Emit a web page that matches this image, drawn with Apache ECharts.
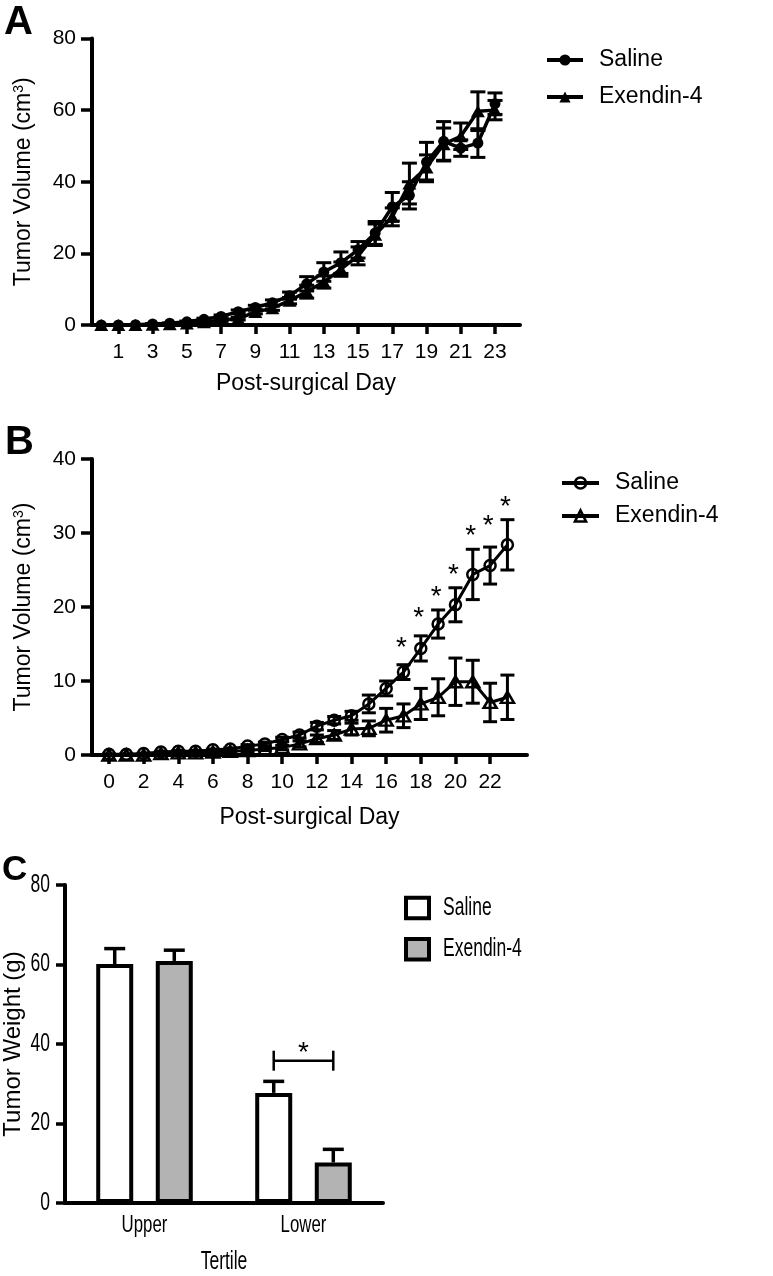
<!DOCTYPE html>
<html><head><meta charset="utf-8">
<script src="https://cdn.jsdelivr.net/npm/echarts@6/dist/echarts.min.js"></script>
<style>html,body{margin:0;padding:0;background:#fff}#c{width:773px;height:1276px}</style>
</head><body><div id="c"></div>
<script>
// ---------- Panel A data ----------
const daysA = [0,1,2,3,4,5,6,7,8,9,10,11,12,13,14,15,16,17,18,19,20,21,22,23];
const salineA = [0,0,0.1,0.3,0.5,0.9,1.6,2.4,3.7,4.9,6.2,8.2,11.5,14.8,17.4,21.0,25.7,33.0,36.2,45.5,51.3,49.4,50.8,61.8];
const salineSemA = [0,0,0,0.1,0.1,0.2,0.3,0.4,0.5,0.6,0.8,1.0,2.0,2.6,3.0,2.3,3.2,4.0,3.8,5.5,5.5,2.3,4.0,3.0];
const exendinA = [0,0,0,0.1,0.2,0.4,0.8,1.3,1.8,3.6,4.7,6.8,9.3,12.0,15.6,19.3,25.2,30.2,39.5,44.0,50.5,52.7,59.7,60.0];
const exendinSemA = [0,0,0,0,0.1,0.1,0.2,0.3,0.4,0.5,0.6,0.9,1.8,1.7,2.0,2.5,3.0,2.5,5.7,3.5,4.5,3.7,5.4,2.7];
const tickDaysA = [1,3,5,7,9,11,13,15,17,19,21,23];

// ---------- Panel B data ----------
const daysB = [0,1,2,3,4,5,6,7,8,9,10,11,12,13,14,15,16,17,18,19,20,21,22,23];
const salineB = [0.1,0.1,0.2,0.4,0.5,0.5,0.7,0.8,1.2,1.5,2.1,2.7,3.9,4.7,5.3,6.9,9.0,11.2,14.4,17.7,20.3,24.4,25.6,28.4];
const salineSemB = [0.05,0.05,0.05,0.1,0.1,0.1,0.1,0.15,0.2,0.25,0.3,0.4,0.5,0.5,0.6,1.2,1.0,1.0,1.7,1.9,2.3,3.4,2.5,3.4];
const exendinB = [0,0,0,0.2,0.3,0.3,0.4,0.5,0.6,0.8,1.0,1.5,2.2,2.7,3.5,3.6,4.7,5.3,6.9,7.8,9.9,9.9,7.1,7.8];
const exendinSemB = [0,0,0,0.1,0.1,0.1,0.1,0.15,0.2,0.2,0.3,0.4,0.5,0.6,0.8,1.0,1.6,1.6,2.1,2.5,3.2,2.9,2.6,3.0];
const tickDaysB = [0,2,4,6,8,10,12,14,16,18,20,22];
const starDaysB = [17,18,19,20,21,22,23];
const starLevelB = [15.3,19.4,22.2,25.2,30.5,31.8,34.4];

// ---------- Panel C data ----------
const tertiles = ['Upper','Lower'];
const salineC = [60.1,27.7];
const salineSemC = [3.9,2.9];
const exendinC = [60.9,10.2];
const exendinSemC = [2.7,3.3];
const tickValuesC = [0,20,40,60,80];
const legendNamesC = ['Saline','Exendin-4'];
const legendFillsC = ['#ffffff','#b3b3b3'];
const bracketCategoryC = 1;
const bracketLevelC = 35.8;

// ---------- styling ----------
const FONT = "'Liberation Sans', Arial, Helvetica, sans-serif";
const BLACK = '#000';
const BAR_W = 37, BAR_GAP = 0.61;
const BAR_OFF = (BAR_W + BAR_W * BAR_GAP) / 2;
const C_SCALE = 0.7;

function errBars(capW, lw) {
  return function (params, api) {
    const x = api.value(0), m = api.value(1), e = api.value(2);
    const t = api.coord([x, m + e]), b = api.coord([x, m - e]);
    const h = capW / 2, st = {stroke: BLACK, lineWidth: lw};
    return {type: 'group', children: [
      {type: 'line', shape: {x1: t[0], y1: t[1], x2: b[0], y2: b[1]}, style: st},
      {type: 'line', shape: {x1: t[0]-h, y1: t[1], x2: t[0]+h, y2: t[1]}, style: st},
      {type: 'line', shape: {x1: b[0]-h, y1: b[1], x2: b[0]+h, y2: b[1]}, style: st}
    ]};
  };
}
function barErr(offset) {
  return function (params, api) {
    const c = api.value(0), m = api.value(1), e = api.value(2);
    const p0 = api.coord([c, m]), p1 = api.coord([c, m + e]);
    const x = p0[0] + offset, h = 10.5, st = {stroke: BLACK, lineWidth: 3.5};
    return {type: 'group', children: [
      {type: 'line', shape: {x1: x, y1: p0[1], x2: x, y2: p1[1]}, style: st},
      {type: 'line', shape: {x1: x-h, y1: p1[1], x2: x+h, y2: p1[1]}, style: st}
    ]};
  };
}
function starRender(params, api) {
  const p = api.coord([api.value(0), api.value(1)]);
  return {type: 'text', style: {text: '*', x: p[0] - 2, y: p[1] + 7, fontSize: 28, fontFamily: FONT, fill: BLACK,
    align: 'center', verticalAlign: 'middle', textAlign: 'center', textVerticalAlign: 'middle'}};
}
function bracketRender(params, api) {
  const p = api.coord([api.value(0), api.value(1)]);
  const x1 = p[0] - BAR_OFF, x2 = p[0] + BAR_OFF, y = p[1], st = {stroke: BLACK, lineWidth: 2.5};
  return {type: 'group', children: [
    {type: 'line', shape: {x1: x1, y1: y, x2: x2, y2: y}, style: st},
    {type: 'line', shape: {x1: x1, y1: y-10, x2: x1, y2: y+10}, style: st},
    {type: 'line', shape: {x1: x2, y1: y-10, x2: x2, y2: y+10}, style: st},
    {type: 'text', style: {text: '*', x: (x1+x2)/2, y: y - 7, fontSize: 28, fontFamily: FONT, fill: BLACK,
      align: 'center', verticalAlign: 'middle', textAlign: 'center', textVerticalAlign: 'middle'}}
  ]};
}

const axisLine = {show: true, onZero: false, lineStyle: {color: BLACK, width: 4}};
function xValAxis(idx, min, max, ticks) {
  return {type: 'value', gridIndex: idx, min: min, max: max,
    axisLine: axisLine, splitLine: {show: false},
    axisTick: {show: true, length: 9, lineStyle: {color: BLACK, width: 3.5}, customValues: ticks},
    axisLabel: {color: BLACK, fontSize: 21, fontFamily: FONT, margin: 17, customValues: ticks},
    name: 'Post-surgical Day', nameLocation: 'middle', nameGap: idx === 0 ? 47 : 51,
    nameTextStyle: {color: BLACK, fontSize: 23, fontFamily: FONT}};
}
function yValAxis(idx, max, interval) {
  return {type: 'value', gridIndex: idx, min: 0, max: max, interval: interval,
    axisLine: axisLine, splitLine: {show: false},
    axisTick: {show: true, length: 11, lineStyle: {color: BLACK, width: 3.5}},
    axisLabel: {color: BLACK, fontSize: 21, fontFamily: FONT, margin: 16},
    name: 'Tumor Volume (cm{sup|3})', nameLocation: 'middle', nameGap: 57, nameRotate: 90,
    nameTextStyle: {color: BLACK, fontSize: 23, fontFamily: FONT,
      rich: {sup: {fontSize: 14, fontFamily: FONT, color: BLACK, verticalAlign: 'top'}}}};
}
const splitName = function (n) { return n.split('|')[1]; };
const letter = (id, t, x, y, size) => ({id: id, type: 'text', x: x, y: y,
  style: {text: t, fontSize: size, fontWeight: 'bold', fontFamily: FONT, fill: BLACK, align: 'left', verticalAlign: 'top'}});

const option = {
  animation: false,
  backgroundColor: '#fff',
  graphic: [letter('la', 'A', 4, 3, 40), letter('lb', 'B', 5, 423, 40), letter('lc', 'C', 2, 853, 35)],
  grid: [
    {left: 92, top: 38.5, width: 428, height: 286.5},
    {left: 92, top: 459, width: 435, height: 296},
    {left: 62, top: 885, width: 321, height: 318}
  ],
  xAxis: [
    xValAxis(0, -0.54, 24.46, tickDaysA),
    xValAxis(1, -0.98, 24.13, tickDaysB),
    {type: 'category', gridIndex: 2, data: tertiles, axisLine: axisLine, axisTick: {show: false},
      axisLabel: {show: false}}
  ],
  yAxis: [
    yValAxis(0, 80, 20),
    yValAxis(1, 40, 10),
    {type: 'value', gridIndex: 2, min: 0, max: 80, interval: 20,
      axisLine: axisLine, splitLine: {show: false},
      axisTick: {show: true, length: 9, lineStyle: {color: BLACK, width: 3.5}},
      axisLabel: {show: false},
      name: 'Tumor Weight (g)', nameLocation: 'middle', nameGap: 40, nameRotate: 90,
      nameTextStyle: {color: BLACK, fontSize: 24, fontFamily: FONT}}
  ],
  legend: [
    {data: ['A|Saline', 'A|Exendin-4'], formatter: splitName, orient: 'vertical', left: 545, top: 48.5,
      padding: 0, itemWidth: 36, itemHeight: 14, itemGap: 14, selectedMode: false,
      lineStyle: {width: 4, color: BLACK},
      textStyle: {color: BLACK, fontSize: 23, fontFamily: FONT, padding: [0, 0, 0, 11]}},
    {data: ['B|Saline', 'B|Exendin-4'], formatter: splitName, orient: 'vertical', left: 560, top: 471.5,
      padding: 0, itemWidth: 37, itemHeight: 14, itemGap: 10, selectedMode: false,
      lineStyle: {width: 4, color: BLACK},
      itemStyle: {color: 'rgba(0,0,0,0)', borderColor: BLACK, borderWidth: 2.5},
      textStyle: {color: BLACK, fontSize: 23, fontFamily: FONT, padding: [0, 0, 0, 11]}}
  ],
  series: [
    // Panel A
    {type: 'custom', name: 'errA1', xAxisIndex: 0, yAxisIndex: 0, z: 2, renderItem: errBars(15, 3),
      encode: {x: 0, y: 1}, data: daysA.map((d, i) => [d, salineA[i], salineSemA[i]])},
    {type: 'custom', name: 'errA2', xAxisIndex: 0, yAxisIndex: 0, z: 2, renderItem: errBars(15, 3),
      encode: {x: 0, y: 1}, data: daysA.map((d, i) => [d, exendinA[i], exendinSemA[i]])},
    {type: 'line', name: 'A|Saline', xAxisIndex: 0, yAxisIndex: 0, z: 3,
      data: daysA.map((d, i) => [d, salineA[i]]), symbol: 'circle', symbolSize: 11,
      lineStyle: {color: BLACK, width: 3.5}, itemStyle: {color: BLACK}},
    {type: 'line', name: 'A|Exendin-4', xAxisIndex: 0, yAxisIndex: 0, z: 3,
      data: daysA.map((d, i) => [d, exendinA[i]]), symbol: 'triangle', symbolSize: [14, 12],
      lineStyle: {color: BLACK, width: 3.5}, itemStyle: {color: BLACK}},
    // Panel B
    {type: 'custom', name: 'errB1', xAxisIndex: 1, yAxisIndex: 1, z: 2, renderItem: errBars(14, 3),
      encode: {x: 0, y: 1}, data: daysB.map((d, i) => [d, salineB[i], salineSemB[i]])},
    {type: 'custom', name: 'errB2', xAxisIndex: 1, yAxisIndex: 1, z: 2, renderItem: errBars(14, 3),
      encode: {x: 0, y: 1}, data: daysB.map((d, i) => [d, exendinB[i], exendinSemB[i]])},
    {type: 'line', name: 'B|Saline', xAxisIndex: 1, yAxisIndex: 1, z: 3,
      data: daysB.map((d, i) => [d, salineB[i]]), symbol: 'circle', symbolSize: 11,
      lineStyle: {color: BLACK, width: 3}, itemStyle: {color: 'rgba(0,0,0,0)', borderColor: BLACK, borderWidth: 2.5}},
    {type: 'line', name: 'B|Exendin-4', xAxisIndex: 1, yAxisIndex: 1, z: 3,
      data: daysB.map((d, i) => [d, exendinB[i]]), symbol: 'triangle', symbolSize: [13, 11],
      lineStyle: {color: BLACK, width: 3}, itemStyle: {color: 'rgba(0,0,0,0)', borderColor: BLACK, borderWidth: 2.5}},
    {type: 'custom', name: 'starsB', xAxisIndex: 1, yAxisIndex: 1, z: 4, renderItem: starRender,
      encode: {x: 0, y: 1}, data: starDaysB.map((d, i) => [d, starLevelB[i]])},
    // Panel C
    {type: 'bar', name: 'C|Saline', xAxisIndex: 2, yAxisIndex: 2, data: salineC, barWidth: BAR_W,
      barGap: (BAR_GAP * 100) + '%', itemStyle: {color: legendFillsC[0], borderColor: BLACK, borderWidth: 4}},
    {type: 'bar', name: 'C|Exendin-4', xAxisIndex: 2, yAxisIndex: 2, data: exendinC, barWidth: BAR_W,
      barGap: (BAR_GAP * 100) + '%', itemStyle: {color: legendFillsC[1], borderColor: BLACK, borderWidth: 4}},
    {type: 'custom', name: 'errC1', xAxisIndex: 2, yAxisIndex: 2, z: 1, renderItem: barErr(-BAR_OFF),
      encode: {x: 0, y: 1}, data: tertiles.map((t, i) => [i, salineC[i], salineSemC[i]])},
    {type: 'custom', name: 'errC2', xAxisIndex: 2, yAxisIndex: 2, z: 1, renderItem: barErr(BAR_OFF),
      encode: {x: 0, y: 1}, data: tertiles.map((t, i) => [i, exendinC[i], exendinSemC[i]])},
    {type: 'custom', name: 'sigC', xAxisIndex: 2, yAxisIndex: 2, z: 3, renderItem: bracketRender,
      encode: {x: 0, y: 1}, data: [[bracketCategoryC, bracketLevelC]]}
  ]
};
const chart = echarts.init(document.getElementById('c'), null, {renderer: 'canvas'});
chart.setOption(option);

// Panel C text: tall, horizontally compressed lettering, placed through the library's axes
function cText(id, t, x, y, align, size) {
  return {id: id, type: 'text', x: x, y: y, scaleX: C_SCALE, scaleY: 1,
    style: {text: t, fontSize: size, fontFamily: FONT, fill: BLACK, align: align, verticalAlign: 'middle'}};
}
const extra = [];
const axisYPix = chart.convertToPixel({yAxisIndex: 2}, 0);
tickValuesC.forEach(function (v, i) {
  extra.push(cText('ct' + i, String(v), 50, chart.convertToPixel({yAxisIndex: 2}, v), 'right', 25));
});
tertiles.forEach(function (t, i) {
  extra.push(cText('cx' + i, t, chart.convertToPixel({xAxisIndex: 2}, t), axisYPix + 22, 'center', 24));
});
extra.push(cText('cname', 'Tertile', (chart.convertToPixel({xAxisIndex: 2}, tertiles[0]) + chart.convertToPixel({xAxisIndex: 2}, tertiles[1])) / 2,
  axisYPix + 59, 'center', 25));
// legend for panel C
const legTop = [897.7, 939];
legendNamesC.forEach(function (n, i) {
  extra.push({id: 'lr' + i, type: 'rect', shape: {x: 406, y: legTop[i], width: 23, height: 20.5},
    style: {fill: legendFillsC[i], stroke: BLACK, lineWidth: 4}});
  extra.push(cText('lt' + i, n, 443, legTop[i] + 10.5, 'left', 25));
});
chart.setOption({graphic: option.graphic.concat(extra)});
</script></body></html>
